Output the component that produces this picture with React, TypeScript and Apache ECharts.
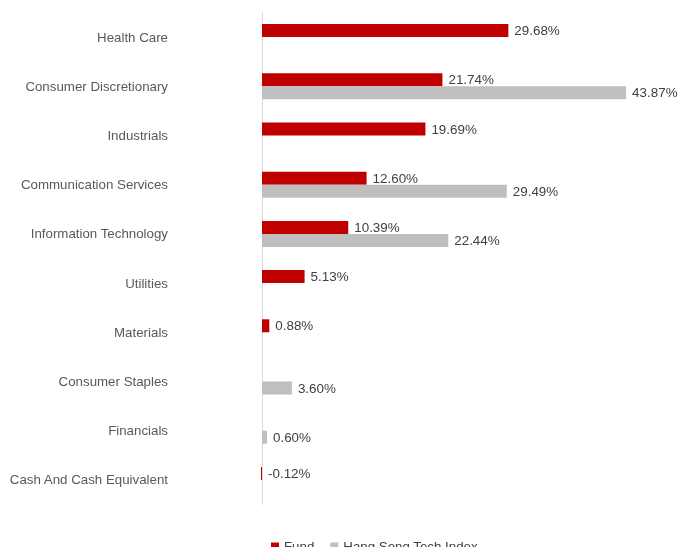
import React, { useEffect, useRef } from "react";
import * as echarts from "echarts";

const categories = [
  "Health Care",
  "Consumer Discretionary",
  "Industrials",
  "Communication Services",
  "Information Technology",
  "Utilities",
  "Materials",
  "Consumer Staples",
  "Financials",
  "Cash And Cash Equivalent",
];
const fundValues: (number | null)[] = [29.68, 21.74, 19.69, 12.6, 10.39, 5.13, 0.88, null, null, -0.12];
const indexValues: (number | null)[] = [null, 43.87, null, 29.49, 22.44, null, null, 3.6, 0.6, null];
const seriesNames = ["Fund", "Hang Seng Tech Index"];

export default function App() {
  const ref = useRef<HTMLDivElement>(null);
  useEffect(() => {
    if (!ref.current) return;
    const chart = echarts.init(ref.current, undefined, { renderer: "svg" });
    const font = "Liberation Sans, Arial, sans-serif";
    const label = {
      show: true,
      position: "right" as const,
      distance: 6,
      color: "#404040",
      fontSize: 13.4,
      fontFamily: font,
      formatter: (p: any) => (p.value == null ? "" : Number(p.value).toFixed(2) + "%"),
    };
    chart.setOption({
      animation: false,
      textStyle: { fontFamily: font },
      grid: { left: 262, right: 1, top: 12.5, bottom: 42.5, containLabel: false },
      legend: {
        data: seriesNames,
        left: 266,
        top: 535,
        itemWidth: 8,
        itemHeight: 8,
        itemGap: 16,
        icon: "rect",
        textStyle: { color: "#404040", fontSize: 13.3, fontFamily: font },
      },
      xAxis: {
        type: "value",
        min: 0,
        max: 50,
        show: false,
        splitLine: { show: false },
      },
      yAxis: {
        type: "category",
        data: categories,
        inverse: true,
        axisLine: { show: true, lineStyle: { color: "#d9d9d9", width: 1 } },
        axisTick: { show: false },
        axisLabel: { margin: 94, color: "#595959", fontSize: 13.3, fontFamily: font },
      },
      series: [
        {
          name: seriesNames[0],
          type: "bar",
          data: fundValues,
          barWidth: 13,
          barGap: "0%",
          clip: false,
          itemStyle: { color: "#C00000" },
          label,
        },
        {
          name: seriesNames[1],
          type: "bar",
          data: indexValues,
          barWidth: 13,
          barGap: "0%",
          clip: false,
          itemStyle: { color: "#BFBFBF" },
          label,
        },
      ],
    });
    return () => chart.dispose();
  }, []);
  return (
    <div
      ref={ref}
      style={{ position: "fixed", left: 0, top: 0, width: 678, height: 547 }}
    />
  );
}
